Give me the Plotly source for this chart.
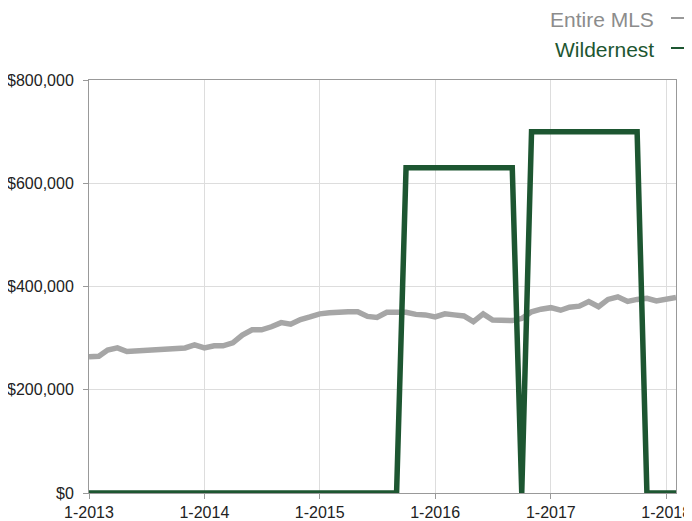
import plotly.graph_objects as go
import pandas as pd

months = pd.date_range("2013-01-01", periods=62, freq="MS").strftime("%Y-%m-%d").tolist()

entire_mls = [
    264000, 265000, 277000, 281000, 274000, 275000, 277000, 277000, 280000, 280000,
    281000, 287000, 281000, 285000, 285000, 291000, 306000, 316000, 316000, 322000,
    330000, 327000, 336000, 341000, 347000, 349000, 351000, 351000, 351000, 342000,
    340000, 350000, 350000, 350000, 346000, 345000, 341000, 347000, 345000, 343000,
    332000, 347000, 335000, 335000, 334000, 338000, 351000, 356000, 359000, 354000,
    360000, 362000, 371000, 361000, 375000, 380000, 371000, 375000, 377000, 372000,
    375000, 379000,
]

wildernest = (
    [0] * 33
    + [630000] * 12
    + [0]
    + [700000] * 12
    + [0] * 4
)

tick_vals = ["2013-01-01", "2014-01-01", "2015-01-01", "2016-01-01", "2017-01-01", "2018-01-01"]
tick_text = ["1-2013", "1-2014", "1-2015", "1-2016", "1-2017", "1-2018"]
y_ticks = [0, 200000, 400000, 600000, 800000]
y_text = ["$0", "$200,000", "$400,000", "$600,000", "$800,000"]

gray = "#a6a6a6"
green = "#1d5631"
font_family = "Liberation Sans, Arial, Helvetica, sans-serif"

fig = go.Figure()
fig.add_trace(go.Scatter(x=months, y=entire_mls, mode="lines", name="Entire MLS",
                         line=dict(color=gray, width=5.5)))
fig.add_trace(go.Scatter(x=months, y=wildernest, mode="lines", name="Wildernest",
                         line=dict(color=green, width=5.5)))

# plot area spans 587 x 413 px; legend placed in paper coordinates above it
def px_x(X):
    return (X - 89) / 587.0

def px_y(Y):
    return (493 - Y) / 413.0

fig.update_layout(
    width=684, height=513,
    margin=dict(l=81, r=16, t=72, b=28),
    paper_bgcolor="white", plot_bgcolor="white",
    showlegend=False,
    font=dict(family=font_family, size=16, color="#222222"),
    xaxis=dict(
        type="date",
        range=["2013-01-01", "2018-02-01"],
        tickvals=tick_vals, ticktext=tick_text,
        showgrid=True, gridcolor="#dddddd", gridwidth=1,
        showline=True, linecolor="#999999", linewidth=1, mirror=True,
        ticks="outside", ticklen=5, tickcolor="#999999",
        zeroline=False, automargin=False,
    ),
    yaxis=dict(
        range=[0, 800000],
        tickvals=y_ticks, ticktext=y_text,
        showgrid=True, gridcolor="#dddddd", gridwidth=1,
        showline=True, linecolor="#999999", linewidth=1, mirror=True,
        ticks="outside", ticklen=5, tickcolor="#999999",
        ticklabelstandoff=6,
        zeroline=False, automargin=False,
    ),
    annotations=[
        dict(text="Entire MLS", x=px_x(656), y=px_y(19), xref="paper", yref="paper",
             xanchor="right", yanchor="middle", showarrow=False,
             font=dict(size=21, color="#8c8c8c", family=font_family)),
        dict(text="Wildernest", x=px_x(656), y=px_y(49), xref="paper", yref="paper",
             xanchor="right", yanchor="middle", showarrow=False,
             font=dict(size=21, color=green, family=font_family)),
    ],
    shapes=[
        dict(type="line", xref="paper", yref="paper",
             x0=px_x(671), x1=px_x(686), y0=px_y(18), y1=px_y(18),
             line=dict(color="#999999", width=2)),
        dict(type="line", xref="paper", yref="paper",
             x0=px_x(671), x1=px_x(686), y0=px_y(48), y1=px_y(48),
             line=dict(color=green, width=2)),
    ],
)

fig.write_html("out.html")
